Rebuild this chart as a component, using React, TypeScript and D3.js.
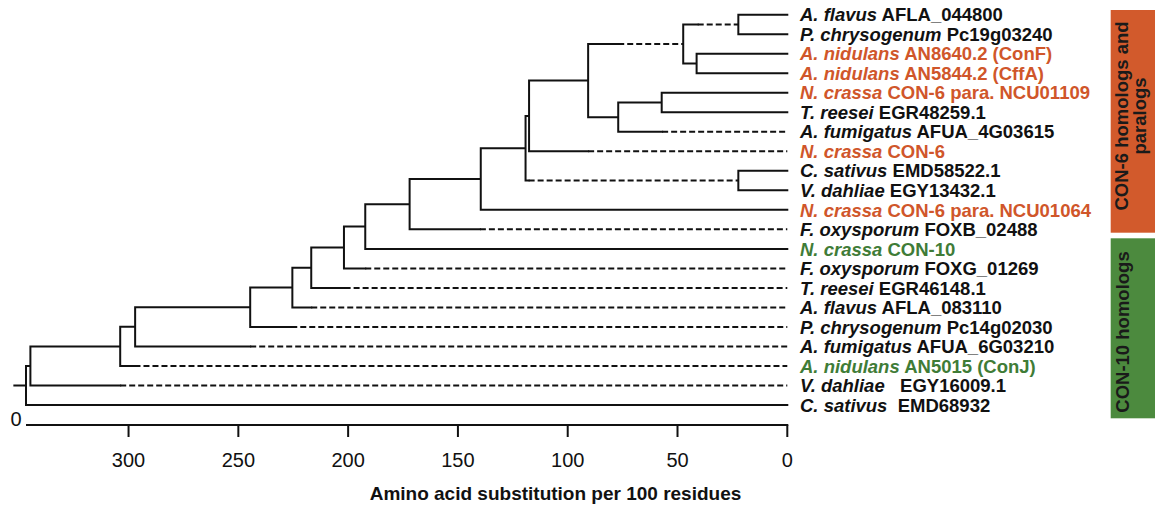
import * as d3 from "d3";
import React from "react";

// leaves, top to bottom
const leafIds = ["l1", "l2", "l3", "l4", "l5", "l6", "l7", "l8", "l9", "l10", "l11", "l12", "l13", "l14", "l15", "l16", "l17", "l18", "l19", "l20", "l21"];
const species = ["A. flavus", "P. chrysogenum", "A. nidulans", "A. nidulans", "N. crassa", "T. reesei", "A. fumigatus", "N. crassa", "C. sativus", "V. dahliae", "N. crassa", "F. oxysporum", "N. crassa", "F. oxysporum", "T. reesei", "A. flavus", "P. chrysogenum", "A. fumigatus", "A. nidulans", "V. dahliae", "C. sativus"];
const geneIds = ["AFLA_044800", "Pc19g03240", "AN8640.2 (ConF)", "AN5844.2 (CffA)", "CON-6 para. NCU01109", "EGR48259.1", "AFUA_4G03615", "CON-6", "EMD58522.1", "EGY13432.1", "CON-6 para. NCU01064", "FOXB_02488", "CON-10", "FOXG_01269", "EGR46148.1", "AFLA_083110", "Pc14g02030", "AFUA_6G03210", "AN5015 (ConJ)", "  EGY16009.1", " EMD68932"];
const leafGroup = ["", "", "con6", "con6", "con6", "", "", "con6", "", "", "con6", "", "con10", "", "", "", "", "", "con10", "", ""];

// tree: node, parent, distance from tips (substitutions per 100 residues), where the branch turns dashed
const nodeIds = ["T", "S", "l21", "R", "l20", "Q", "l19", "P", "l18", "O", "l17", "N", "l16", "M", "l15", "L", "l14", "K", "l13", "J", "l12", "I", "l11", "G", "H", "F", "l8", "C", "E", "A", "B", "l1", "l2", "l3", "l4", "D", "l7", "l5", "l6", "l9", "l10"];
const parentIds = ["", "T", "T", "S", "S", "R", "R", "Q", "Q", "P", "P", "O", "O", "N", "N", "M", "M", "L", "L", "K", "K", "J", "J", "I", "I", "G", "G", "F", "F", "C", "C", "A", "A", "B", "B", "E", "E", "D", "D", "H", "H"];
const heights = [346.7, 344.7, 0, 303.8, 0, 297.0, 0, 244.6, 0, 225.4, 0, 216.8, 0, 201.9, 0, 192.2, 0, 172.0, 0, 139.6, 0, 119.2, 0, 117.6, 22.3, 90.7, 0, 47.4, 77.0, 22.3, 41.3, 0, 0, 0, 0, 57.2, 0, 0, 0, 0, 0];
const dashFrom = [null, null, null, null, 303.8, null, 297.3, null, 244.6, null, 225.9, null, 216.8, null, 201.6, null, 192.2, null, null, null, 140, null, null, null, 117.8, null, 90.7, 77.0, null, 40.8, null, null, null, null, null, null, 57.0, null, null, null, null];

const tickValues = [300, 250, 200, 150, 100, 50, 0];
const axisTitle = "Amino acid substitution per 100 residues";
const rootHeight = 346.7;
const rootStub = 352;

const groupBars = [
  { key: "con6", lines: ["CON-6 homologs and", "paralogs"], top: 10, bottom: 232.7, fill: "#d25a2c", cx: [1121, 1139], cy: 116 },
  { key: "con10", lines: ["CON-10 homologs"], top: 238.3, bottom: 418.3, fill: "#4c8a3e", cx: [1122], cy: 332 },
];
const textColor = { con6: "#d0562a", con10: "#3f7c37", "": "#111" };

const FONT = "'Liberation Sans', Arial, Helvetica, sans-serif";

export default function App() {
  const width = 1155;
  const height = 506;

  const x = d3.scaleLinear().domain([rootHeight, 0]).range([26, 787.3]);
  const yLeaf = d3.scalePoint<string>().domain(leafIds).range([14.7, 405]);

  const table = nodeIds.map((id, i) => ({
    id,
    parent: parentIds[i] || null,
    h: heights[i],
    dash: dashFrom[i],
  }));
  const root = d3
    .stratify<any>()
    .id((d) => d.id)
    .parentId((d) => d.parent)(table);

  const yPos = new Map<string, number>();
  root.eachAfter((n: any) => {
    if (!n.children) yPos.set(n.id, yLeaf(n.id)!);
    else yPos.set(n.id, d3.mean(n.children, (c: any) => yPos.get(c.id))!);
  });

  const solid: string[] = [];
  const dashed: string[] = [];
  root.each((n: any) => {
    const y = yPos.get(n.id)!;
    if (n.children) {
      const ys = n.children.map((c: any) => yPos.get(c.id));
      solid.push(`M${x(n.data.h)},${d3.min(ys)}V${d3.max(ys)}`);
    }
    if (n.parent) {
      const x0 = x(n.parent.data.h);
      const x1 = x(n.data.h);
      if (n.data.dash != null) {
        const xd = x(n.data.dash);
        solid.push(`M${x0},${y}H${xd}`);
        dashed.push(`M${xd},${y}H${x1}`);
      } else {
        solid.push(`M${x0},${y}H${x1}`);
      }
    }
  });
  const rootY = yPos.get(root.id!)!;
  solid.push(`M${x(rootStub)},${rootY}H${x(rootHeight)}`);

  const axisY = 425;

  return (
    <svg width={width} height={height} style={{ position: "absolute", left: 0, top: 0, background: "#fff" }} fontFamily={FONT}>
      <path d={solid.join("")} fill="none" stroke="#111" strokeWidth={2} strokeLinecap="square" />
      <path d={dashed.join("")} fill="none" stroke="#111" strokeWidth={2} strokeDasharray="6,3" />

      {leafIds.map((id, i) => (
        <text
          key={id}
          x={800}
          y={yLeaf(id)}
          dy="0.36em"
          fontSize={18.5}
          fontWeight="bold"
          fill={textColor[leafGroup[i]]}
          style={{ whiteSpace: "pre" }}
        >
          <tspan fontStyle="italic">{species[i]}</tspan>
          <tspan>{" " + geneIds[i]}</tspan>
        </text>
      ))}

      {groupBars.map((g) => (
        <g key={g.key}>
          <rect x={1110.7} y={g.top} width={width - 1110.7} height={g.bottom - g.top} fill={g.fill} />
          {g.lines.map((l, j) => (
            <text
              key={j}
              transform={`translate(${g.cx[j]},${g.cy}) rotate(-90)`}
              textAnchor="middle"
              dy="0.36em"
              fontSize={18.5}
              fontWeight="bold"
              fill="#1a1a1a"
            >
              {l}
            </text>
          ))}
        </g>
      ))}

      <g>
        <line x1={x(rootHeight)} x2={x(0) + 1} y1={axisY} y2={axisY} stroke="#111" strokeWidth={2} />
        {tickValues.map((t) => (
          <g key={t} transform={`translate(${x(t)},0)`}>
            <line y1={axisY} y2={axisY + 12} stroke="#111" strokeWidth={2} />
            <text y={axisY + 35} dy="0.36em" textAnchor="middle" fontSize={20} fill="#111">
              {t}
            </text>
          </g>
        ))}
        <text x={16} y={419} dy="0.36em" textAnchor="middle" fontSize={20} fill="#111">
          0
        </text>
        <text x={555.5} y={493} dy="0.36em" textAnchor="middle" fontSize={19} fontWeight="bold" fill="#111">
          {axisTitle}
        </text>
      </g>
    </svg>
  );
}
